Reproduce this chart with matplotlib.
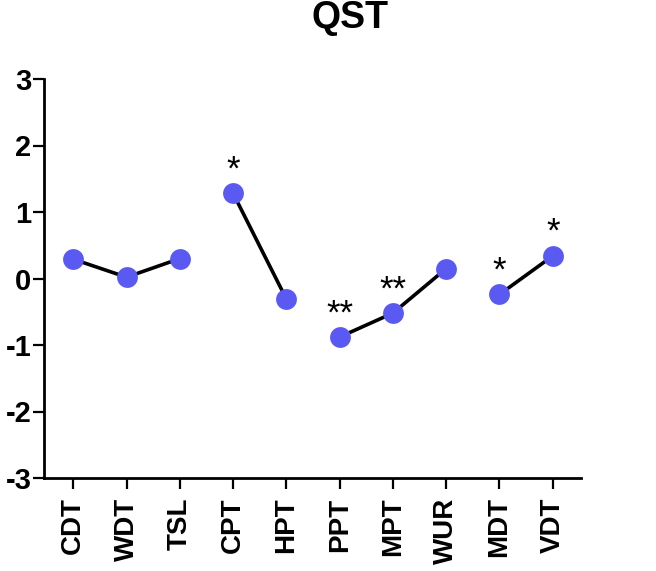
import matplotlib
matplotlib.use("Agg")
import matplotlib.pyplot as plt
import numpy as np

categories = ["CDT", "WDT", "TSL", "CPT", "HPT", "PPT", "MPT", "WUR", "MDT", "VDT"]
values = [0.29, 0.02, 0.30, 1.28, -0.31, -0.88, -0.52, 0.15, -0.24, 0.34]
groups = [[0, 1, 2], [3, 4], [5, 6, 7], [8, 9]]
stars = ["", "", "", "*", "", "**", "**", "", "*", "*"]

plt.rcParams['font.family'] = ['Liberation Sans', 'DejaVu Sans']
plt.rcParams['axes.unicode_minus'] = False

fig = plt.figure(figsize=(6.56, 5.71), dpi=100)
ax = fig.add_axes([44/656, 93/571, (581-44)/656, (478-79)/571])

x = np.arange(len(categories))
for g in groups:
    ax.plot(x[g], [values[i] for i in g], color='black', lw=2.6, zorder=2)
ax.plot(x, values, 'o', color='#5A5AF2', markersize=15, markeredgewidth=0, zorder=3)

for i, s in enumerate(stars):
    if s:
        ax.annotate(s, (x[i], values[i]), xytext=(0, 10), textcoords='offset points',
                    ha='center', va='baseline', fontsize=25, color='black')

ax.set_xlim(-0.55, 9.53)
ax.set_ylim(-3, 3)
ax.set_yticks([-3, -2, -1, 0, 1, 2, 3])
ax.set_xticks(x)
ax.set_xticklabels(categories, rotation=90, fontsize=20, fontweight='bold')
for lab in ax.get_yticklabels():
    lab.set_fontsize(21)
    lab.set_fontweight('bold')

for side in ['top', 'right']:
    ax.spines[side].set_visible(False)
for side in ['left', 'bottom']:
    ax.spines[side].set_linewidth(2)
ax.tick_params(axis='both', width=1.6, length=8, colors='black')
ax.tick_params(axis='y', pad=1)
ax.tick_params(axis='x', pad=6)

fig.text(350/656, 1 - 18/571, "QST", ha='center', va='center', fontsize=27, fontweight='bold')

fig.savefig("out.png", dpi=100)
